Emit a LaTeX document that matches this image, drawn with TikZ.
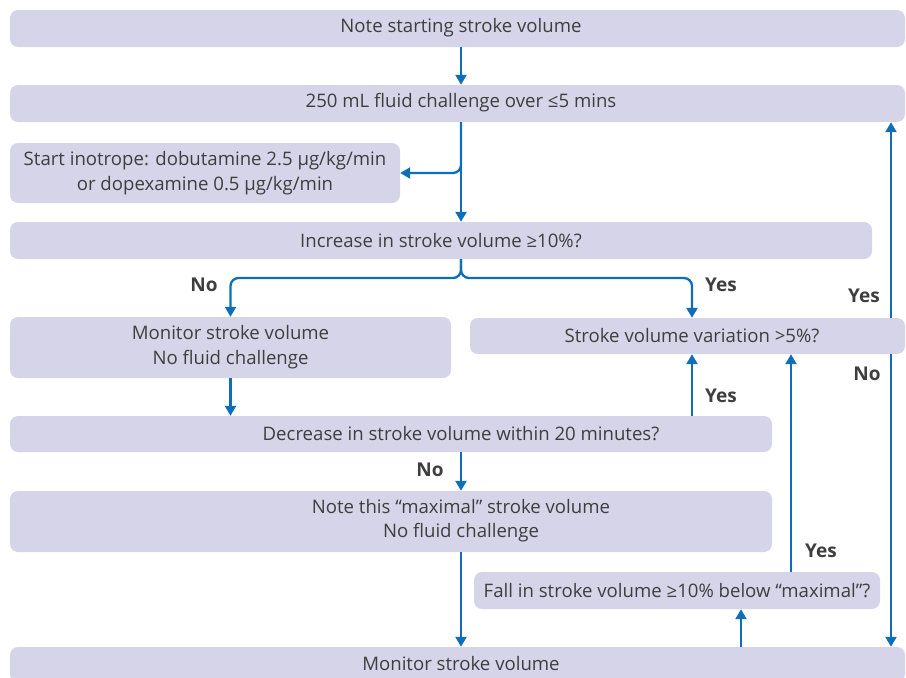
\documentclass[tikz,border=0pt]{standalone}
\usepackage{fontspec}
\setmainfont{Open Sans}
\usetikzlibrary{arrows.meta}
\definecolor{boxfill}{RGB}{214,212,233}
\definecolor{arrblue}{RGB}{16,110,184}
\definecolor{txtgrey}{RGB}{62,62,62}
\begin{document}
\begin{tikzpicture}[x=1pt,y=-1pt,
  box/.style={draw=none, fill=boxfill, rounded corners=8pt, inner sep=0pt, align=center,
    text=txtgrey, font=\fontsize{18.6}{25}\selectfont},
  txt/.style={inner sep=0pt, align=center, text=txtgrey, font=\fontsize{18.6}{24}\selectfont},
  arr/.style={draw=arrblue, line width=2.3pt, -{Triangle[width=11pt,length=10pt]}},
  lbl/.style={inner sep=0pt, text=txtgrey, font=\fontsize{19}{22}\selectfont\bfseries}]
\useasboundingbox (0,0) rectangle (906,678);
% column coordinates
\coordinate (cx) at (461,0);
\coordinate (cl) at (230.5,0);
\coordinate (cyes) at (692,0);
\coordinate (cfall) at (791,0);
\coordinate (cmon) at (741,0);
\coordinate (cr) at (891,0);
\coordinate (j) at (461,278);
% boxes
\node[box, minimum width=895pt, minimum height=37pt] (b1) at (457.5,28.5) {};
\node[txt] (t1) at (461,28) {Note starting stroke volume};
\node[box, minimum width=895pt, minimum height=37pt] (b2) at (457.5,103.5) {};
\node[txt] (t2) at (461,103) {250 mL fluid challenge over ≤5 mins};
\node[box, minimum width=390pt, minimum height=60pt] (b3) at (205,173) {Start inotrope: dobutamine 2.5 µg/kg/min\\or dopexamine 0.5 µg/kg/min};
\node[box, minimum width=862pt, minimum height=37pt] (b4) at (441,240.5) {Increase in stroke volume ≥10\%?};
\node[box, minimum width=441pt, minimum height=61pt] (b5) at (230.5,347.5) {Monitor stroke volume\\No fluid challenge};
\node[box, minimum width=435pt, minimum height=36pt] (b6) at (687.5,336) {};
\node[txt] (t6) at (692,335.5) {Stroke volume variation >5\%?};
\node[box, minimum width=762pt, minimum height=36pt] (b7) at (391,434) {};
\node[txt] (t7) at (461,433.5) {Decrease in stroke volume within 20 minutes?};
\node[box, minimum width=762pt, minimum height=61pt] (b8) at (391,521.5) {};
\node[txt] (t8) at (461,521) {Note this “maximal” stroke volume\\No fluid challenge};
\node[box, minimum width=406pt, minimum height=37pt] (b9) at (677,590.5) {Fall in stroke volume ≥10\% below “maximal”?};
\node[box, minimum width=895pt, minimum height=35pt] (b10) at (457.5,664.5) {};
\node[txt] (t10) at (461,664) {Monitor stroke volume};
% connectors
\draw[arr] (b1.south -| cx) -- (b2.north -| cx);
\draw[arr] (b2.south -| cx) -- (b4.north -| cx);
\draw[arr, rounded corners=8pt] (b2.south -| cx) |- (b3.east);
\draw[arr, rounded corners=8pt] (b4.south -| cx) -- (j) -| (b5.north -| cl);
\draw[arr, rounded corners=8pt] (b4.south -| cx) -- (j) -| (b6.north -| cyes);
\draw[arr] (b5.south -| cl) -- (b7.north -| cl);
\draw[arr] (b7.north -| cyes) -- (b6.south -| cyes);
\draw[arr] (b7.south -| cx) -- (b8.north -| cx);
\draw[arr] (b9.north -| cfall) -- (b6.south -| cfall);
\draw[arr] (b8.south -| cx) -- (b10.north -| cx);
\draw[arr] (b10.north -| cmon) -- (b9.south -| cmon);
\draw[arr] (b6.north -| cr) -- (b2.south -| cr);
\draw[arr] (b6.south -| cr) -- (b10.north -| cr);
% labels
\node[lbl] (l1) at (204,285) {No};
\node[lbl] (l2) at (721,285) {Yes};
\node[lbl] (l3) at (864,296) {Yes};
\node[lbl] (l4) at (867,374) {No};
\node[lbl] (l5) at (721,396) {Yes};
\node[lbl] (l6) at (430,470) {No};
\node[lbl] (l7) at (821,551) {Yes};
\end{tikzpicture}
\end{document}
